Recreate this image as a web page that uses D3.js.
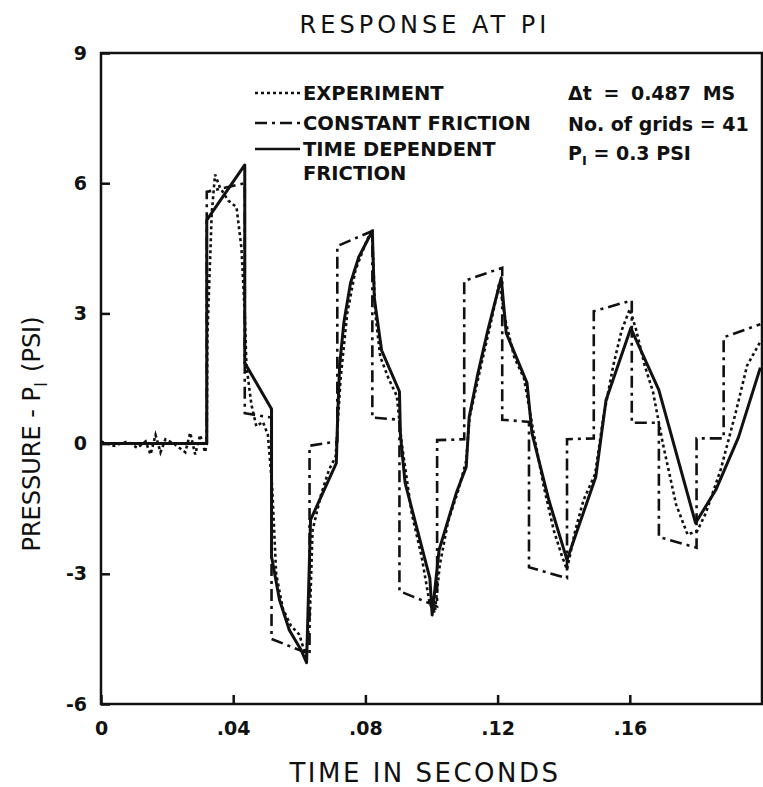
<!DOCTYPE html>
<html>
<head>
<meta charset="utf-8">
<script src="https://cdn.jsdelivr.net/npm/d3@7"></script>
<style>
  body { margin: 0; background: #fff; }
  svg { display: block; }
  text { fill: #111; font-family: "DejaVu Sans", sans-serif; }
</style>
</head>
<body>
<svg id="chart"></svg>
<script>
var width = 763, height = 787;

// tick labels
var xTicks = [0, 0.04, 0.08, 0.12, 0.16];
var yTicks = [-6, -3, 0, 3, 6, 9];

// experiment (dotted) - time in s, pressure in psi
var expT = [0, 0.004, 0.008, 0.011, 0.0135, 0.015, 0.0165, 0.018, 0.0195, 0.022, 0.0255, 0.027, 0.0285, 0.030, 0.0315, 0.032,
  0.0322, 0.0335, 0.0345, 0.036, 0.0385, 0.041, 0.0425, 0.0435, 0.044, 0.0455, 0.047, 0.049, 0.0505, 0.0518, 0.053, 0.055,
  0.0575, 0.060, 0.062, 0.0632, 0.064, 0.0665, 0.069, 0.071, 0.0725, 0.0745, 0.077, 0.0805, 0.082, 0.083, 0.0845, 0.087,
  0.0895, 0.091, 0.094, 0.097, 0.0995, 0.101, 0.1025, 0.105, 0.108, 0.1105, 0.1115, 0.115, 0.118, 0.1205, 0.1225, 0.125,
  0.128, 0.131, 0.134, 0.137, 0.1395, 0.141, 0.1435, 0.146, 0.1495, 0.152, 0.155, 0.1575, 0.160, 0.162, 0.1645, 0.167,
  0.170, 0.174, 0.1775, 0.1805, 0.183, 0.1875, 0.192, 0.1955, 0.1995];
var expP = [0.05, -0.05, 0.05, -0.1, 0.05, -0.25, 0.2, -0.2, 0.1, 0.0, -0.2, 0.25, -0.25, 0.2, -0.2, 0.0,
  2.5, 5.3, 6.2, 5.9, 5.6, 5.45, 4.5, 3.0, 1.8, 0.9, 0.4, 0.5, 0.2, -1.0, -3.0, -3.8,
  -4.2, -4.4, -4.9, -4.0, -2.0, -1.2, -0.6, -0.3, 1.5, 3.0, 4.0, 4.7, 4.9, 3.0, 2.0, 1.5,
  1.1, 0.0, -1.6, -2.6, -3.7, -3.9, -2.8, -1.8, -1.1, -0.4, 0.6, 1.8, 2.8, 3.7, 2.8, 2.0,
  1.5, 0.2, -1.0, -2.0, -2.6, -2.9, -2.0, -1.3, -0.7, 0.6, 1.8, 2.6, 3.1, 2.6, 1.8, 1.2,
  0.0, -1.4, -2.1, -2.0, -1.6, -0.6, 0.7, 1.8, 2.35];

// constant friction (dash-dot)
var cfT = [0, 0.032, 0.032, 0.0435, 0.0435, 0.0516, 0.0516, 0.0631, 0.0631, 0.0715, 0.0715, 0.0821, 0.0821, 0.0903, 0.0903,
  0.1017, 0.1017, 0.1099, 0.1099, 0.1214, 0.1214, 0.1295, 0.1295, 0.141, 0.141, 0.1491, 0.1491, 0.1606, 0.1606, 0.1688,
  0.1688, 0.1802, 0.1802, 0.1884, 0.1884, 0.1995];
var cfP = [0, 0, 5.8, 6.0, 0.7, 0.6, -4.5, -4.85, -0.05, 0.05, 4.55, 4.9, 0.6, 0.55, -3.4,
  -3.75, 0.08, 0.1, 3.75, 4.05, 0.55, 0.5, -2.85, -3.1, 0.1, 0.12, 3.05, 3.3, 0.48, 0.48,
  -2.15, -2.4, 0.12, 0.12, 2.45, 2.75];

// time dependent friction (solid)
var tdT = [0, 0.032, 0.032, 0.0435, 0.0435, 0.0516, 0.0516, 0.054, 0.057, 0.0605, 0.0622, 0.0634, 0.0712, 0.0716, 0.0722,
  0.0735, 0.0755, 0.078, 0.0821, 0.0827, 0.0849, 0.0903, 0.0906, 0.092, 0.0995, 0.1002, 0.1023, 0.1075, 0.1105, 0.1114,
  0.114, 0.117, 0.1211, 0.1226, 0.1289, 0.1304, 0.1355, 0.141, 0.1497, 0.1528, 0.1603, 0.1688, 0.1799, 0.186, 0.1929, 0.1995];
var tdP = [0, 0, 5.15, 6.42, 1.86, 0.8, -2.6, -3.6, -4.3, -4.75, -5.05, -1.76, -0.45, 0.6, 1.8,
  2.8, 3.7, 4.3, 4.9, 3.35, 2.15, 1.2, 0.2, -0.9, -3.1, -3.95, -2.45, -1.14, -0.54, 0.61,
  1.6, 2.6, 3.82, 2.55, 1.4, 0.24, -1.3, -2.68, -0.77, 1.0, 2.66, 1.23, -1.83, -1.07, 0.15, 1.75];

var legendLabels = [["EXPERIMENT"], ["CONSTANT FRICTION"], ["TIME DEPENDENT", "FRICTION"]];

var svg = d3.select("#chart").attr("width", width).attr("height", height);

var x = d3.scaleLinear().domain([0, 0.2]).range([101, 762]);
var y = d3.scaleLinear().domain([-6, 9]).range([704, 53]);

function zip(ts, ps) { return ts.map(function(t, i) { return [t, ps[i]]; }); }

var line = d3.line().x(d => x(d[0])).y(d => y(d[1]));

// frame
svg.append("rect")
  .attr("x", x(0)).attr("y", y(9))
  .attr("width", x(0.2) - x(0)).attr("height", y(-6) - y(9))
  .attr("fill", "none").attr("stroke", "#111").attr("stroke-width", 2.5);

// axes (inward ticks)
var fmtX = function(d) { return d === 0 ? "0" : d3.format(".2f")(d).replace(/^0/, ""); };
var fmtY = function(d) { return String(d); };  // plain hyphen like the original

var xAxis = svg.append("g")
  .attr("transform", "translate(0," + y(-6) + ")")
  .call(d3.axisBottom(x).tickValues(xTicks).tickSizeInner(-9).tickSizeOuter(0).tickPadding(14).tickFormat(fmtX));
var yAxis = svg.append("g")
  .attr("transform", "translate(" + x(0) + ",0)")
  .call(d3.axisLeft(y).tickValues(yTicks).tickSizeInner(-9).tickSizeOuter(0).tickPadding(14).tickFormat(fmtY));

[xAxis, yAxis].forEach(function(g) {
  g.select(".domain").remove();
  g.selectAll(".tick line").attr("stroke", "#111").attr("stroke-width", 2.5);
  g.selectAll(".tick text")
    .attr("fill", "#111")
    .style("font-family", "DejaVu Sans, sans-serif")
    .style("font-size", "19px")
    .style("font-weight", "bold");
});
xAxis.selectAll(".tick text").attr("dy", "0.9em");

// series
svg.append("path").datum(zip(cfT, cfP))
  .attr("d", line).attr("fill", "none").attr("stroke", "#111")
  .attr("stroke-width", 2.6).attr("stroke-dasharray", "12,5,3,5");

svg.append("path").datum(zip(expT, expP))
  .attr("d", line).attr("fill", "none").attr("stroke", "#111")
  .attr("stroke-width", 2.6).attr("stroke-dasharray", "3,3");

svg.append("path").datum(zip(tdT, tdP))
  .attr("d", line).attr("fill", "none").attr("stroke", "#111")
  .attr("stroke-width", 3).attr("stroke-linejoin", "round");

// title and axis labels
svg.append("text")
  .attr("x", 425).attr("y", 33)
  .attr("text-anchor", "middle")
  .style("font-size", "24px")
  .style("letter-spacing", "4px")
  .text("RESPONSE AT PI");

svg.append("text")
  .attr("x", 425).attr("y", 782)
  .attr("text-anchor", "middle")
  .style("font-size", "26px")
  .style("letter-spacing", "2.5px")
  .text("TIME IN SECONDS");

// y label: anchored at start, then placed by measuring it
var yl = svg.append("text")
  .attr("transform", "translate(40,0) rotate(-90)")
  .style("font-size", "24px");
yl.append("tspan").text("PRESSURE - P");
yl.append("tspan").attr("dy", 7).style("font-size", "17px").text("I");
yl.append("tspan").attr("dy", -7).attr("dx", 10).text("(PSI)");
var ylLen = yl.node().getComputedTextLength() + 10;
yl.attr("x", -434 - ylLen / 2);

// legend
var legY = [93, 123, 149];
var dashes = ["3,3", "12,5,3,5", null];
var leg = svg.append("g");
legendLabels.forEach(function(lines, i) {
  var l = leg.append("line")
    .attr("x1", 255).attr("x2", 300)
    .attr("y1", legY[i]).attr("y2", legY[i])
    .attr("stroke", "#111").attr("stroke-width", 2.6);
  if (dashes[i]) l.attr("stroke-dasharray", dashes[i]);
  lines.forEach(function(s, j) {
    leg.append("text")
      .attr("x", 303).attr("y", legY[i] + 7 + j * 24)
      .style("font-size", "19.5px").style("font-weight", "bold")
      .text(s);
  });
});

var info = svg.append("g").style("font-size", "19px").style("font-weight", "bold");
info.append("text").attr("x", 568).attr("y", 100).style("word-spacing", "5px").text("\u0394t = 0.487 MS");
info.append("text").attr("x", 568).attr("y", 131).text("No. of grids = 41");
var p1 = info.append("text").attr("x", 568).attr("y", 160);
p1.append("tspan").text("P");
p1.append("tspan").attr("dy", 5).style("font-size", "13px").text("I");
p1.append("tspan").attr("dy", -5).text(" = 0.3 PSI");
</script>
</body>
</html>
